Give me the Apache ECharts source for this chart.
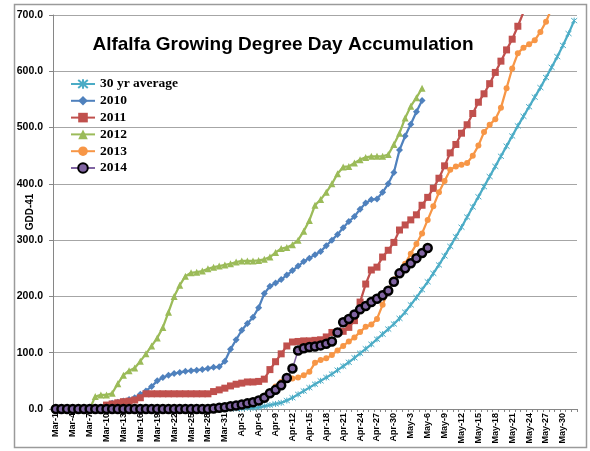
<!DOCTYPE html>
<html><head><meta charset="utf-8">
<script src="https://cdn.jsdelivr.net/npm/echarts@6/dist/echarts.min.js"></script>
<style>html,body{margin:0;padding:0;background:#fff}#c{width:590px;height:451px}</style>
</head><body><div id="c"></div>
<script>
const categories = [
'Mar-1','Mar-2','Mar-3','Mar-4','Mar-5','Mar-6','Mar-7','Mar-8','Mar-9','Mar-10','Mar-11','Mar-12','Mar-13','Mar-14','Mar-15','Mar-16','Mar-17','Mar-18','Mar-19','Mar-20','Mar-21','Mar-22','Mar-23','Mar-24','Mar-25','Mar-26','Mar-27','Mar-28','Mar-29','Mar-30','Mar-31',
'Apr-1','Apr-2','Apr-3','Apr-4','Apr-5','Apr-6','Apr-7','Apr-8','Apr-9','Apr-10','Apr-11','Apr-12','Apr-13','Apr-14','Apr-15','Apr-16','Apr-17','Apr-18','Apr-19','Apr-20','Apr-21','Apr-22','Apr-23','Apr-24','Apr-25','Apr-26','Apr-27','Apr-28','Apr-29','Apr-30',
'May-1','May-2','May-3','May-4','May-5','May-6','May-7','May-8','May-9','May-10','May-11','May-12','May-13','May-14','May-15','May-16','May-17','May-18','May-19','May-20','May-21','May-22','May-23','May-24','May-25','May-26','May-27','May-28','May-29','May-30','May-31',
'Jun-1'];

const seriesNames = ['30 yr average','2010','2011','2012','2013','2014'];

const avg30 = [
0,0,0,0,0,0,0,0,0,0, 0,0,0,0,0,0,0,0,0,0, 0,0,0,0,0,0,0,0,0,0, 0,
1,1,1,2,2,3,5,7,9,11,15,20,26,32,38,44,50,56,62,69,76,83,91,99,107,115,124,133,142,151,
161,172,185,198,212,226,241,256,272,289,306,323,341,359,377,395,413,431,449,467,485,503,
520,537,554,571,589,607,626,646,667,690];

const y2010 = [
0,0,0,0,0,0,0,0,0,
5,10,12,14,17,20,26,32,40,50,
56,60,63,65,67,68,69,70,72,74,
75,85,106,123,140,152,163,180,205,218,
224,230,238,246,254,262,268,274,280,290,
300,310,322,333,342,355,366,372,373,385,
400,420,460,485,506,528,548];

const y2011 = [
0,0,0,0,0,0,0,0,0,
7,9,11,13,14,16,20,27,27,27,27,27,27,27,27,27,27,27,27,
31,34,37,41,44,46,48,48,49,53,
70,84,98,112,119,120,121,121,122,123,
128,136,137,138,145,157,190,222,247,252,
270,282,296,318,327,336,345,362,376,392,
410,432,455,470,490,505,525,545,560,578,
598,618,638,657,680,705];

const y2012 = [
0,0,0,0,0,0,0,
22,25,25,28,45,60,68,73,85,98,112,126,145,172,
200,220,236,242,243,245,249,252,254,256,
258,261,263,263,263,264,266,270,278,285,
287,292,300,316,335,362,372,385,400,418,
430,431,437,443,447,449,449,449,452,470,
490,517,538,553,570];

const y2013 = [
0,0,0,0,0,0,0,0,0,0, 0,0,0,0,0,0,0,0,0,0, 0,0,0,0,0,0,0,
1,2,3,4,5,6,8,10,13,17,22,28,40,48,52,54,56,60,66,82,87,90,96,104,
112,120,127,137,146,150,160,185,210,230,
243,258,276,293,312,336,360,385,405,425,
431,434,437,450,468,492,505,515,535,570,
605,632,642,648,655,670,688,712];

const y2014 = [
0,0,0,0,0,0,0,0,0,0, 0,0,0,0,0,0,0,0,0,0, 0,0,0,0,0,0,0,0,
1,2,3,5,6,8,10,12,15,20,28,34,42,55,72,
104,108,110,111,113,116,120,136,154,160,
168,177,183,190,196,202,210,226,241,250,
259,268,277,286];

const yTicks = {min: 0, max: 700, interval: 100};

const starPath = 'path://M0,0L10,10M10,0L0,10M5,-1L5,11';

const chart = echarts.init(document.getElementById('c'), null, {renderer: 'canvas'});

function lineSeries(name, data, color, symbol, size, extra) {
  return Object.assign({
    name: name, type: 'line', data: data,
    symbol: symbol, symbolSize: size, showSymbol: true, showAllSymbol: true,
    lineStyle: {color: color, width: 2.25},
    itemStyle: {color: color},
    emphasis: {disabled: true},
    animation: false
  }, extra || {});
}

chart.setOption({
  animation: false,
  backgroundColor: '#ffffff',
  graphic: [{
    type: 'rect', shape: {x: 14.5, y: 4.5, width: 572, height: 443},
    style: {fill: 'none', stroke: '#9a9a9a', lineWidth: 1.5}, silent: true, z: -1
  }],
  title: {
    text: 'Alfalfa Growing Degree Day Accumulation',
    left: 278, top: 30, textAlign: 'center',
    textStyle: {fontFamily: '"Liberation Sans", Arial, sans-serif', fontWeight: 'bold', fontSize: 19, color: '#000'}
  },
  legend: {
    orient: 'vertical', left: 70, top: 77, padding: 0,
    itemWidth: 24, itemHeight: 12, itemGap: 2.8,
    data: seriesNames,
    textStyle: {fontFamily: '"Liberation Serif", "Times New Roman", serif', fontWeight: 'bold', fontSize: 13.5, color: '#000', lineHeight: 12}
  },
  grid: {left: 53, right: 13, top: 15, bottom: 42, containLabel: false},
  xAxis: {
    type: 'category', data: categories, boundaryGap: true,
    axisLine: {show: true, lineStyle: {color: '#868686', width: 1}},
    axisTick: {show: true, interval: 0, length: 3, lineStyle: {color: '#868686'}},
    axisLabel: {interval: 2, rotate: 90, fontSize: 9, fontWeight: 'bold', color: '#000', margin: 4,
      fontFamily: '"Liberation Sans", Arial, sans-serif'},
    splitLine: {show: false}
  },
  yAxis: {
    type: 'value', min: yTicks.min, max: yTicks.max, interval: yTicks.interval,
    name: 'GDD-41', nameLocation: 'middle', nameRotate: 90, nameGap: 18, nameMoveOverlap: false,
    nameTextStyle: {fontSize: 10, fontWeight: 'bold', color: '#000', fontFamily: '"Liberation Sans", Arial, sans-serif'},
    axisLine: {show: true, lineStyle: {color: '#868686', width: 1}},
    axisTick: {show: true, length: 4, lineStyle: {color: '#868686'}},
    axisLabel: {formatter: v => v.toFixed(1), fontSize: 10.5, fontWeight: 'bold', color: '#000', margin: 10,
      fontFamily: '"Liberation Sans", Arial, sans-serif'},
    splitLine: {show: true, lineStyle: {color: '#a6a6a6', width: 1}}
  },
  series: [
    lineSeries(seriesNames[0], avg30, '#4BACC6', starPath, 6,
      {itemStyle: {color: '#4BACC6', borderColor: '#4BACC6', borderWidth: 1}}),
    lineSeries(seriesNames[1], y2010, '#4F81BD', 'diamond', 7),
    lineSeries(seriesNames[2], y2011, '#C0504D', 'rect', 7),
    lineSeries(seriesNames[3], y2012, '#9BBB59', 'triangle', 7),
    lineSeries(seriesNames[4], y2013, '#F79646', 'circle', 6),
    lineSeries(seriesNames[5], y2014, '#8064A2', 'circle', 8,
      {lineStyle: {color: '#8064A2', width: 1.5},
       itemStyle: {color: '#8064A2', borderColor: '#000000', borderWidth: 2.5}})
  ]
});
</script>
</body></html>
